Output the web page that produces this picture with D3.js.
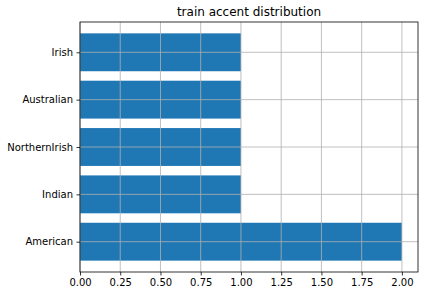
<!DOCTYPE html>
<html>
<head>
<meta charset="utf-8">
<script src="https://cdn.jsdelivr.net/npm/d3@7"></script>
<style>
  body { margin: 0; background: #fff; }
  text { font-family: "DejaVu Sans", sans-serif; fill: #000; }
</style>
</head>
<body>
<div id="chart"></div>
<script>
// accent counts, bottom to top
var accents = ["American", "Indian", "NorthernIrish", "Australian", "Irish"];
var counts = [2, 1, 1, 1, 1];
var xTicks = [0, 0.25, 0.5, 0.75, 1.0, 1.25, 1.5, 1.75, 2.0];

var W = 424, H = 296;
// plot box (note: "top" is reserved on window, so use other names)
var axLeft = 80, axRight = 418, axTop = 22, axBottom = 272;

var svg = d3.select("#chart").append("svg")
  .attr("width", W).attr("height", H);

// matplotlib-like limits: x from 0 with 5% margin on the right, y with 5% margins
var x = d3.scaleLinear().domain([0, 2.1]).range([axLeft, axRight]);
var y = d3.scaleLinear().domain([-0.64, 4.64]).range([axBottom, axTop]);

// bars
svg.selectAll("rect.bar")
  .data(counts)
  .enter().append("rect")
  .attr("class", "bar")
  .attr("x", x(0))
  .attr("y", (d, i) => y(i + 0.4))
  .attr("width", d => x(d) - x(0))
  .attr("height", (d, i) => y(i - 0.4) - y(i + 0.4))
  .attr("fill", "#1f77b4");

// grid on top of bars
svg.selectAll("line.gx")
  .data(xTicks)
  .enter().append("line")
  .attr("class", "gx")
  .attr("x1", d => x(d)).attr("x2", d => x(d))
  .attr("y1", axTop).attr("y2", axBottom)
  .attr("stroke", "#b0b0b0").attr("stroke-width", 0.8);

svg.selectAll("line.gy")
  .data(accents)
  .enter().append("line")
  .attr("class", "gy")
  .attr("x1", axLeft).attr("x2", axRight)
  .attr("y1", (d, i) => y(i)).attr("y2", (d, i) => y(i))
  .attr("stroke", "#b0b0b0").attr("stroke-width", 0.8);

// axes
var xAxis = d3.axisBottom(x).tickValues(xTicks).tickFormat(d3.format(".2f"))
  .tickSize(3.5).tickPadding(3.5);
var gx = svg.append("g").attr("transform", "translate(0," + axBottom + ")").call(xAxis);

var yAxis = d3.axisLeft(y).tickValues(d3.range(accents.length))
  .tickFormat(i => accents[i]).tickSize(3.5).tickPadding(3.5);
var gy = svg.append("g").attr("transform", "translate(" + axLeft + ",0)").call(yAxis);

[gx, gy].forEach(function(g) {
  g.select(".domain").remove();
  g.selectAll("line").attr("stroke", "#000").attr("stroke-width", 0.8);
  g.selectAll("text").attr("font-size", 10).attr("fill", "#000")
    .attr("font-family", "DejaVu Sans, sans-serif");
});

// frame
svg.append("rect")
  .attr("x", axLeft).attr("y", axTop)
  .attr("width", axRight - axLeft).attr("height", axBottom - axTop)
  .attr("fill", "none").attr("stroke", "#000").attr("stroke-width", 0.8);

// title
svg.append("text")
  .attr("x", (axLeft + axRight) / 2).attr("y", axTop - 6)
  .attr("text-anchor", "middle")
  .attr("font-size", 12)
  .text("train accent distribution");
</script>
</body>
</html>
